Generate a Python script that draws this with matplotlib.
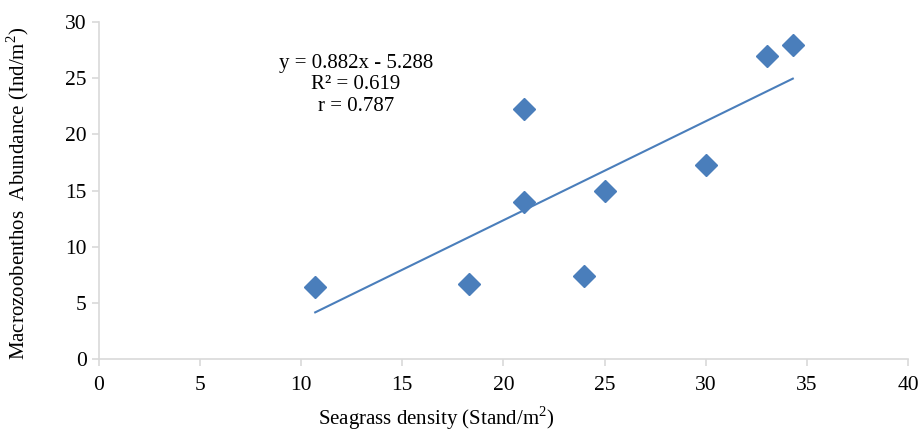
import numpy as np
import matplotlib.pyplot as plt

plt.rcParams['font.family'] = ['Liberation Serif', 'DejaVu Serif']
plt.rcParams['mathtext.fontset'] = 'custom'
plt.rcParams['mathtext.rm'] = 'Liberation Serif'

density = [10.7, 18.3, 21.0, 21.0, 24.0, 25.0, 30.0, 33.0, 34.3]
abundance = [6.4, 6.7, 14.0, 22.3, 7.4, 15.0, 17.3, 27.0, 28.0]
slope = 0.882
intercept = -5.288

fig = plt.figure(figsize=(9.22, 4.33), dpi=100)
ax = fig.add_axes([0.107, 0.171, 0.878, 0.778])

blue = '#4a7ebb'
ax.plot(density, abundance, 'D', color=blue, ms=11, mec=blue, zorder=3)

# linear trendline over the data range
xl = np.array([min(density), max(density)])
ax.plot(xl, slope * xl + intercept, color=blue, lw=1.5)

ax.text(12.7, 24.4, 'y = 0.882x - 5.288\nR² = 0.619\nr = 0.787',
        ha='center', va='center', fontsize=15, linespacing=1.2)

ax.set_xlim(0, 40)
ax.set_ylim(0, 30)
ax.set_xticks(range(0, 41, 5))
ax.set_yticks(range(0, 31, 5))

for s in ['top', 'right']:
    ax.spines[s].set_visible(False)
for s in ['left', 'bottom']:
    ax.spines[s].set_color('#d9d9d9')
    ax.spines[s].set_linewidth(1.2)
ax.tick_params(colors='#d9d9d9', labelcolor='black', labelsize=15.5,
               length=5, width=1.2)
ax.tick_params(axis='x', pad=7)

ax.set_xlabel('Seagrass density (Stand/m$^{2}$)', fontsize=15)
ax.xaxis.set_label_coords(0.417, -0.136)
ax.set_ylabel('Macrozoobenthos  Abundance (Ind/m$^{2}$)', fontsize=15)
ax.yaxis.set_label_coords(-0.083, 0.49)

fig.savefig('out.png', dpi=100)
